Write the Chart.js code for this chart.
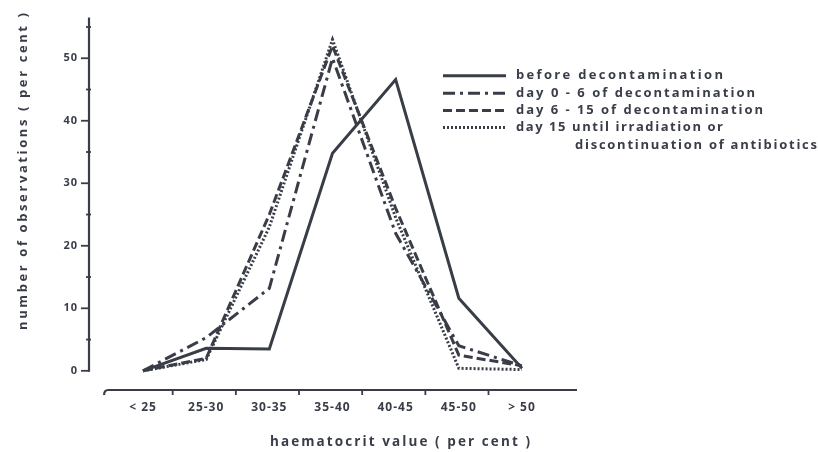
<!DOCTYPE html>
<html>
<head>
<meta charset="utf-8">
<script src="https://cdn.jsdelivr.net/npm/chart.js@4/dist/chart.umd.min.js"></script>
<style>
  html, body { margin: 0; padding: 0; background: #ffffff; }
  #wrap { width: 818px; height: 452px; }
</style>
</head>
<body>
<div id="wrap"><canvas id="c" width="818" height="452"></canvas></div>
<script>
// Haematocrit value classes (per cent)
const categories = ['< 25', '25-30', '30-35', '35-40', '40-45', '45-50', '> 50'];

// Number of observations (per cent) per class
const beforeDecontamination = [0, 3.6, 3.5, 34.8, 46.6, 11.6, 0.4];
const day0to6 = [0, 5.3, 13.2, 50.0, 22.0, 4.0, 0.8];
const day6to15 = [0, 2.0, 25.0, 52.0, 26.0, 2.5, 0.8];
const day15onwards = [0, 1.8, 23.0, 53.0, 24.5, 0.4, 0.2];

// Y axis ticks
const yMajorTicks = [0, 10, 20, 30, 40, 50];
const yMinorTicks = [5, 15, 25, 35, 45, 55];

const seriesLabels = [
  ['before decontamination'],
  ['day 0 - 6 of decontamination'],
  ['day 6 - 15 of decontamination'],
  ['day 15 until irradiation or', 'discontinuation of antibiotics']
];

const INK = '#393d47';
const FONT = '"Open Sans", Lato, sans-serif';
const dashes = [[], [12, 5, 3, 5], [9, 4], [2, 2]];
const seriesValues = [beforeDecontamination, day0to6, day6to15, day15onwards];

const datasets = seriesValues.map((vals, k) => ({
  label: seriesLabels[k].join(' '),
  data: vals.map((v, i) => ({ x: i, y: v })),
  borderColor: INK,
  borderWidth: 3,
  borderDash: dashes[k],
  borderCapStyle: 'butt',
  borderJoinStyle: 'miter',
  pointRadius: 0,
  tension: 0,
  fill: false
}));

// Draw text stretched with letter spacing to a given width
function spacedText(ctx, text, x, y, size, width) {
  ctx.font = 'bold ' + size + 'px ' + FONT;
  ctx.letterSpacing = '0px';
  const w = ctx.measureText(text).width;
  const sp = (width - w) / Math.max(1, text.length - 1);
  ctx.letterSpacing = sp + 'px';
  ctx.textAlign = 'left';
  ctx.textBaseline = 'middle';
  ctx.fillText(text, x, y);
  ctx.letterSpacing = '0px';
}

const decorations = {
  id: 'decorations',
  beforeDraw(chart) {
    chart.ctx.letterSpacing = '1px';
  },
  afterDraw(chart) {
    const ctx = chart.ctx;
    const xs = chart.scales.x, ys = chart.scales.y;
    const area = chart.chartArea;
    ctx.save();
    ctx.letterSpacing = '0px';
    ctx.strokeStyle = INK;
    ctx.fillStyle = INK;
    ctx.lineCap = 'butt';

    // Y axis line with major and minor tick marks
    const ax = area.left;
    ctx.lineWidth = 2.2;
    ctx.beginPath();
    ctx.moveTo(ax, ys.getPixelForValue(0) + 1);
    ctx.lineTo(ax, area.top);
    ctx.stroke();
    ctx.lineWidth = 1.8;
    yMajorTicks.forEach(v => {
      const py = ys.getPixelForValue(v);
      ctx.beginPath();
      ctx.moveTo(ax - 8, py);
      ctx.lineTo(ax, py);
      ctx.stroke();
    });
    yMinorTicks.forEach(v => {
      const py = ys.getPixelForValue(v);
      ctx.beginPath();
      ctx.moveTo(ax - 3, py);
      ctx.lineTo(ax + 2, py);
      ctx.stroke();
    });

    // X axis line with class-boundary ticks
    const by = area.bottom;
    const x0 = xs.getPixelForValue(-0.6);
    ctx.lineWidth = 2.2;
    ctx.beginPath();
    ctx.moveTo(x0 - 1, by + 5);
    ctx.quadraticCurveTo(x0 - 1, by, x0 + 3, by);
    ctx.lineTo(area.right, by);
    ctx.stroke();
    ctx.lineWidth = 1.8;
    for (let i = 0; i < categories.length - 1; i++) {
      const px = xs.getPixelForValue(i + 0.47);
      ctx.beginPath();
      ctx.moveTo(px, by);
      ctx.lineTo(px, by + 5);
      ctx.stroke();
    }

    // Axis titles
    spacedText(ctx, 'haematocrit value ( per cent )', 270, 442, 13.5, 260);
    ctx.save();
    ctx.translate(23, 171.5);
    ctx.rotate(-Math.PI / 2);
    spacedText(ctx, 'number of observations ( per cent )', -158.5, 0, 13, 317);
    ctx.restore();

    // Legend
    const rowsY = [75.7, 93.3, 110.5, 127.5];
    const widths = [[207], [239], [247], [207, 242]];
    seriesLabels.forEach((lines, k) => {
      const y = rowsY[k];
      ctx.lineWidth = 3;
      ctx.setLineDash(dashes[k]);
      ctx.beginPath();
      ctx.moveTo(443, y);
      ctx.lineTo(506, y);
      ctx.stroke();
      ctx.setLineDash([]);
      spacedText(ctx, lines[0], 516, y, 13, widths[k][0]);
      if (lines[1]) spacedText(ctx, lines[1], 575, y + 17.7, 13, widths[k][1]);
    });
    ctx.restore();
  }
};

new Chart(document.getElementById('c'), {
  type: 'line',
  data: { datasets },
  options: {
    responsive: false,
    devicePixelRatio: 1,
    animation: false,
    events: [],
    layout: { padding: { top: 12, right: 241, left: 0, bottom: 0 } },
    plugins: { legend: { display: false }, tooltip: { enabled: false } },
    scales: {
      x: {
        type: 'linear',
        min: -0.855,
        max: 6.871,
        grid: { display: false, drawTicks: false },
        border: { display: false },
        afterBuildTicks: s => { s.ticks = categories.map((_, i) => ({ value: i })); },
        afterFit: s => { s.height = 62; },
        ticks: {
          autoSkip: false,
          maxRotation: 0,
          padding: 10,
          color: INK,
          font: { family: FONT, size: 12, weight: 'bold' },
          callback: v => categories[v] !== undefined ? categories[v] : ''
        }
      },
      y: {
        type: 'linear',
        min: -3.07,
        max: 56.5,
        grid: { display: false, drawTicks: false },
        border: { display: false },
        afterBuildTicks: s => { s.ticks = yMajorTicks.map(v => ({ value: v })); },
        afterFit: s => { s.width = 89; },
        ticks: {
          padding: 11,
          color: INK,
          font: { family: FONT, size: 11, weight: 'bold' }
        }
      }
    }
  },
  plugins: [decorations]
});
</script>
</body>
</html>
